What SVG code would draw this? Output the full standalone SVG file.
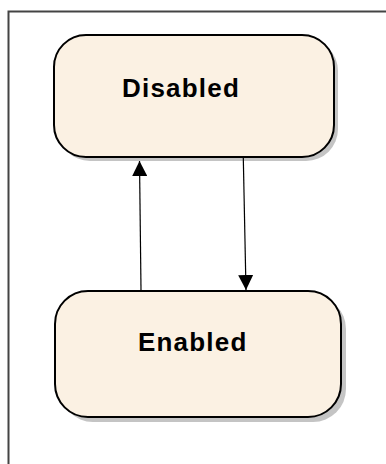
<svg xmlns="http://www.w3.org/2000/svg" width="386" height="464" viewBox="0 0 386 464">
<style>
.shadow{fill:#c4c4c4;stroke:none}
.state{fill:#fbf1e3;stroke:#000;stroke-width:2}
.label{font-family:"Liberation Sans",Arial,sans-serif;font-weight:bold;font-size:26px;letter-spacing:1.2px;fill:#000}
.conn{stroke:#000;stroke-width:1.2;fill:none}
</style>
<defs>
<marker id="arrow" viewBox="0 0 15 15" refX="15" refY="7.5" markerWidth="15" markerHeight="15" markerUnits="userSpaceOnUse" orient="auto">
<path d="M0,0 L15,7.5 L0,15 Z" fill="#000"/>
</marker>
</defs>
<rect x="0" y="0" width="386" height="464" fill="#fff"/>
<rect id="frame" x="8.5" y="11.5" width="400" height="480" fill="none" stroke="#444" stroke-width="2"/>
<g id="Disabled">
<rect class="shadow" x="58" y="39" width="280" height="122" rx="32" ry="32"/>
<rect class="state" x="54" y="35" width="280" height="122" rx="32" ry="32"/>
<text class="label" x="122" y="97">Disabled</text>
</g>
<g id="Enabled">
<rect class="shadow" x="60" y="296" width="286" height="126" rx="33" ry="33"/>
<rect class="state" x="55" y="291" width="286" height="126" rx="33" ry="33"/>
<text class="label" x="138" y="351">Enabled</text>
</g>
<g id="connectors">
<line class="conn" x1="141" y1="290" x2="139.5" y2="161" marker-end="url(#arrow)"/>
<line class="conn" x1="243.3" y1="158" x2="246" y2="290" marker-end="url(#arrow)"/>
</g>
</svg>
